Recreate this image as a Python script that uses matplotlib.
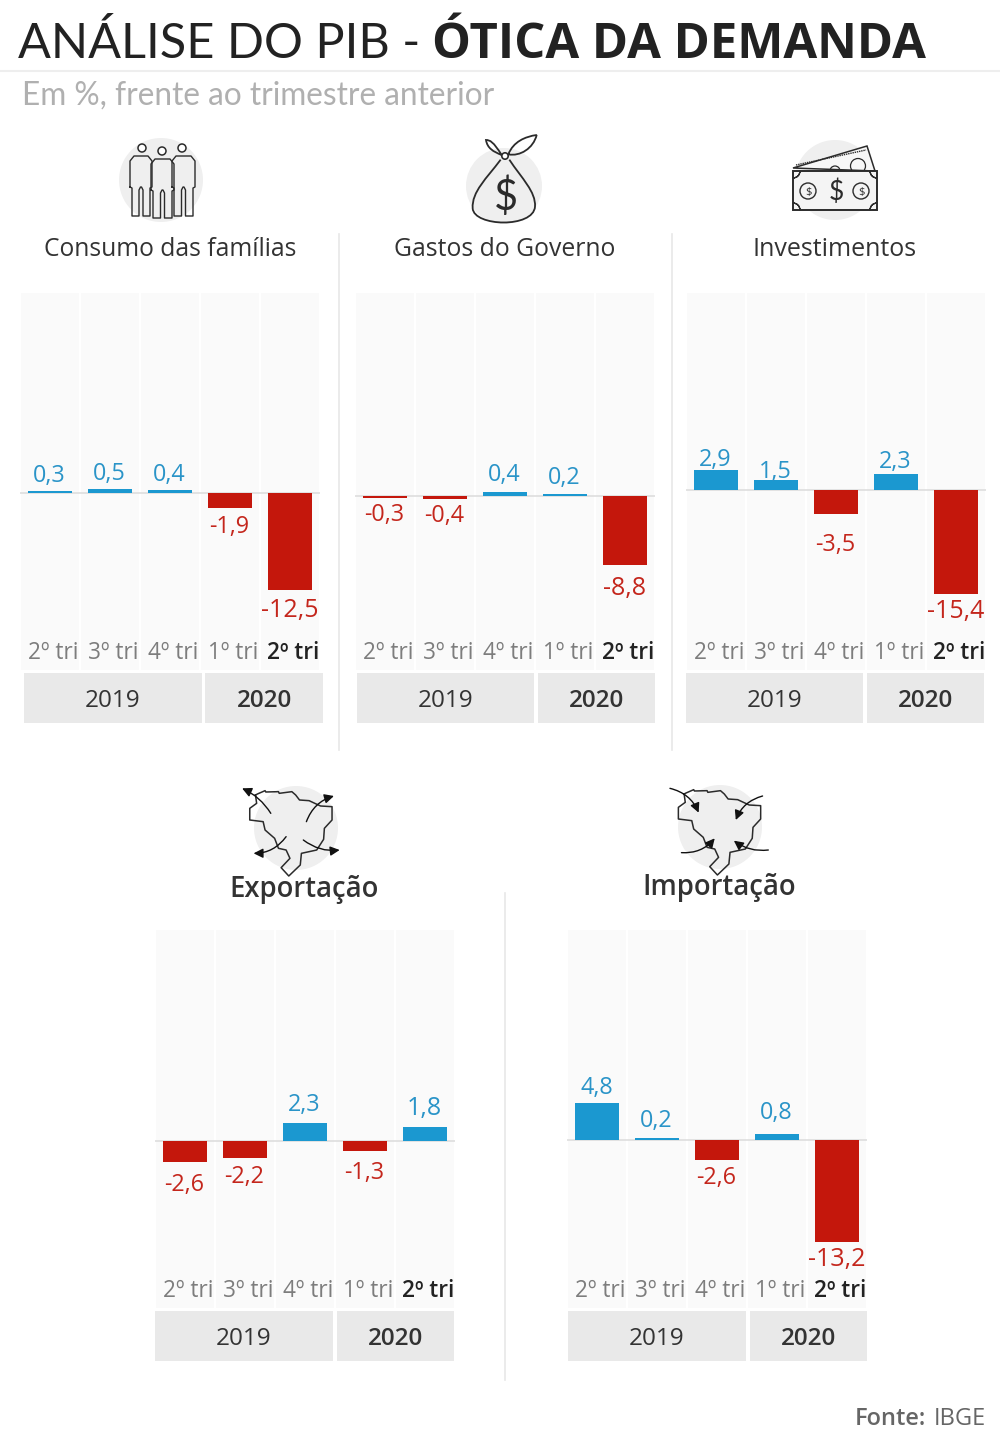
import numpy as np
import matplotlib
matplotlib.use('Agg')
import matplotlib.pyplot as plt
from matplotlib.patches import Circle, Rectangle, Polygon, PathPatch, Wedge
from matplotlib.path import Path

plt.rcParams['font.family'] = ['Open Sans', 'DejaVu Sans']

quarters = ['2º tri', '3º tri', '4º tri', '1º tri', '2º tri']
years = ['2019', '2020']
consumo = [0.3, 0.5, 0.4, -1.9, -12.5]
governo = [-0.3, -0.4, 0.4, 0.2, -8.8]
investimentos = [2.9, 1.5, -3.5, 2.3, -15.4]
exportacao = [-2.6, -2.2, 2.3, -1.3, 1.8]
importacao = [4.8, 0.2, -2.6, 0.8, -13.2]

BLUE, RED = '#1b98d0', '#c4170c'
BLUE_T, RED_T = '#2a94c8', '#c4261c'
W, H = 1000, 1442
fig = plt.figure(figsize=(W/100, H/100), dpi=100, facecolor='white')
bg = fig.add_axes([0, 0, 1, 1], zorder=0)
bg.set_xlim(0, W); bg.set_ylim(H, 0); bg.axis('off')
px = 0.72  # points per pixel


def panel(vals, x0, zero, scale, top, bot, bands, band_top, title, tx, ty, tsize, nudge, tweight='normal'):
    ax = fig.add_axes([x0/W, 1-bot/H, 300/W, (bot-top)/H], zorder=2)
    ax.patch.set_alpha(0)
    ax.set_xlim(-0.5, 4.5)
    ax.set_ylim(-(bot-zero)/scale, (zero-top)/scale)
    for s in ax.spines.values():
        s.set_visible(False)
    ax.set_yticks([])
    for i in range(5):
        ax.axvspan(i-0.485, i+0.485, color='#fafafa', lw=0, zorder=0)
    ax.axhline(0, color='#dedede', lw=1.2, zorder=1)
    colors = [BLUE if v > 0 else RED for v in vals]
    ax.bar(range(5), vals, width=0.733, color=colors, zorder=2)
    for i, v in enumerate(vals):
        last = i == 4
        ax.annotate(f'{v:.1f}'.replace('.', ','), (i, v),
                    xytext=(-0.5*px, ((17 if v > 0 else -17)-nudge[i])*px), textcoords='offset points',
                    ha='center', va='center', fontsize=18 if last else 16.8,
                    color=BLUE_T if v > 0 else RED_T, zorder=3)
    ax.set_xticks(np.arange(5)+0.055, quarters)
    ax.tick_params(axis='x', length=0, pad=-28*px-1, labelsize=16.3)
    for i, lab in enumerate(ax.get_xticklabels()):
        lab.set_color('#222222' if i == 4 else '#7d7d7d')
        lab.set_fontweight('semibold' if i == 4 else 'normal')
    for (a, b), y, w in zip(bands, years, ['normal', 'semibold']):
        bg.add_patch(Rectangle((a, band_top), b-a, 50, color='#e9e9e9', lw=0))
        bg.text((a+b)/2, band_top+28, y, ha='center', va='center', fontsize=17.5,
                color='#333333', fontweight=w)
    bg.text(tx, ty, title, ha='center', va='center', fontsize=tsize, color='#333333',
            fontweight=tweight)


panel(consumo, 20, 493, 7.76, 293, 670, [(24, 202), (205, 323)], 673, 'Consumo das famílias', 170, 250, 17.7,
      [2, 2, 2, 2, 3])
panel(governo, 355, 495.5, 7.95, 293, 670, [(357, 534), (538, 655)], 673, 'Gastos do Governo', 505, 250, 17.8,
      [0, 0, 0, 1, 6])
panel(investimentos, 686, 490, 6.75, 293, 670, [(686, 863), (867, 984)], 673, 'Investimentos', 835, 250, 18,
      [7, 9, 14, 5, 1])
panel(exportacao, 155, 1141, 7.9, 930, 1308, [(155, 333), (337, 454)], 1311, 'Exportação', 304, 889, 19.8,
      [6, 2, -1, 5, -1], 'semibold')
panel(importacao, 567, 1140, 7.75, 930, 1308, [(568, 746), (750, 867)], 1311, 'Importação', 719, 887, 19.8,
      [2, 0, 1, -4, 0], 'semibold')

# header
bg.plot([0, W], [71, 71], color='#eeeeee', lw=1.5)
bg.text(18, 58, 'ANÁLISE DO PIB -', fontsize=35, color='#222222', va='baseline', family='Lato')
bg.text(432, 58, 'ÓTICA DA DEMANDA', fontsize=35.3, color='#222222', va='baseline', family='Open Sans', fontweight='bold')
bg.text(22, 105, 'Em %, frente ao trimestre anterior', fontsize=22.8, color='#b0b0b0', va='baseline', family='Lato')
bg.text(926, 1419, 'Fonte:', fontsize=17, color='#666666', va='center', ha='right', fontweight='semibold')
bg.text(986, 1419, 'IBGE', fontsize=17, color='#666666', va='center', ha='right')

# separators
for x, y0, y1 in [(339, 234, 750), (672, 234, 750), (505, 893, 1380)]:
    bg.plot([x, x], [y0, y1], color='#e8e8e8', lw=1.2)

ICON = '#2b2b2b'
GREY = '#efefef'
# people icon
bg.add_patch(Circle((161, 180), 42, color=GREY, lw=0))


def person(xa, xb, yt, yw, yb):
    m = (xa+xb)/2
    pts = [(xa, yw), (xa, yt+5), (xa+4, yt), (xb-4, yt), (xb, yt+5), (xb, yw),
           (xb-2, yw+1), (xb-2, yb), (m+2, yb), (m+2, yw+3), (m+0.5, yw),
           (m-0.5, yw), (m-2, yw+3), (m-2, yb), (xa+2, yb), (xa+2, yw+1), (xa, yw)]
    bg.plot(*zip(*pts), color=ICON, lw=1.0, solid_joinstyle='round')


for hx, hy, xa, xb, yt, yw, yb in [(142, 148, 130, 152, 156, 187, 216),
                                   (182, 148, 172, 195, 156, 187, 216),
                                   (162, 151, 151, 174, 159, 190, 218)]:
    person(xa, xb, yt, yw, yb)
    bg.add_patch(Circle((hx, hy), 4, fc='white', ec=ICON, lw=1.1))

# money bag icon
bg.add_patch(Circle((504, 186), 38, color=GREY, lw=0))


def bz(pts, closed=False):
    V = [(450+x/3, 125+y/3) for x, y in pts]
    C = [Path.MOVETO]+[Path.CURVE4]*(len(V)-1)
    bg.add_patch(PathPatch(Path(V, C), fc='none', ec=ICON, lw=1.3, zorder=3))


bz([(152, 104), (110, 160), (65, 200), (68, 250), (72, 305), (250, 310), (255, 245), (258, 200), (215, 160), (178, 104)])
bz([(155, 90), (130, 50), (120, 45), (108, 45), (112, 70), (130, 80), (155, 90)])
bz([(175, 88), (190, 50), (225, 35), (260, 30), (250, 70), (210, 95), (175, 88)])
bg.add_patch(Circle((505, 156), 3.2, fc='white', ec=ICON, lw=1.2, zorder=4))
bg.text(506, 197, '$', fontsize=30, ha='center', va='center', color=ICON, family='Lato')

# banknotes icon
bg.add_patch(Circle((835, 180), 40, color=GREY, lw=0))
bg.add_patch(Polygon([(793, 168), (867, 146), (875, 171)], fc='#f7f7f7', ec=ICON, lw=1.1))
bg.plot([796, 866], [165, 150], color=ICON, lw=1.0, ls=(0, (1, 0.6)))
bg.add_patch(Circle((858, 166), 7.5, fc='none', ec=ICON, lw=0.9))
bg.add_patch(Circle((835, 171), 5, fc='none', ec=ICON, lw=0.9))
bg.add_patch(Rectangle((793, 171), 84, 39, fc='#f4f4f4', ec=ICON, lw=1.4, zorder=3))
for cx, cy, t1, t2 in [(793, 171, 270, 360), (877, 171, 180, 270)]:
    bg.add_patch(Wedge((cx, cy), 7, -t2, -t1, width=0.01, ec=ICON, lw=0.9, fc='none', zorder=4))
for cx, cy, t1, t2 in [(793, 210, 0, 90), (877, 210, 90, 180)]:
    bg.add_patch(Wedge((cx, cy), 7, -t2, -t1, width=0.01, ec=ICON, lw=0.9, fc='none', zorder=4))
for cx in (808, 861):
    bg.add_patch(Circle((cx, 191), 8, fc='none', ec=ICON, lw=1.0, zorder=4))
    bg.text(cx, 192, '$', fontsize=8, ha='center', va='center', color=ICON, zorder=4)
bg.text(836, 192, '$', fontsize=19, ha='center', va='center', color=ICON, zorder=4, family='Lato')

# Brazil map icons
MAP = np.array([(145, 75), (150, 72), (170, 62), (172, 66), (205, 65), (207, 70), (240, 65), (250, 75), (260, 90),
                (285, 92), (300, 100), (315, 108), (345, 110), (345, 150), (325, 175), (323, 208), (305, 240),
                (265, 250), (262, 285), (232, 318), (212, 293), (235, 265), (225, 240), (205, 235),
                (195, 205), (170, 180), (165, 155), (130, 150), (130, 115), (148, 100), (145, 75)], float)


def z(p, dx=0.0, dy=0.0):
    return (200+(p[0]+dx)/2.613, 770+(p[1]+dy)/3)


def brazil(dx, dy, circle, arrows):
    bg.add_patch(Circle(circle, 42, color=GREY, lw=0))
    pts = [z(p, dx, dy) for p in MAP]
    bg.plot(*zip(*pts), color=ICON, lw=1.1)
    for a, b, rad in arrows:
        bg.annotate('', xy=z(b), xytext=z(a),
                    arrowprops=dict(arrowstyle='-|>', color='#111111', lw=1.0, mutation_scale=14,
                                    shrinkA=0, shrinkB=0, connectionstyle=f'arc3,rad={rad}'))


brazil(0, 0, (296, 828), [((185, 130), (110, 55), 0.15), ((278, 155), (350, 78), -0.25),
                          ((225, 200), (140, 250), -0.25), ((270, 210), (365, 240), 0.2)])
brazil(1120, -3, (720, 827), [((1228, 55), (1303, 128), -0.25), ((1470, 78), (1400, 150), 0.25),
                              ((1258, 248), (1345, 205), 0.25), ((1485, 240), (1395, 212), -0.2)])

fig.savefig('out.png', dpi=100, facecolor='white')
